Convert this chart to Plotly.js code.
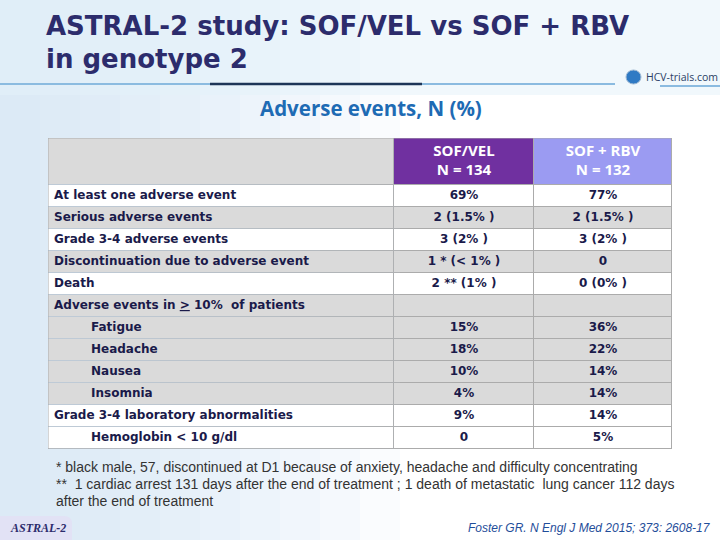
<!DOCTYPE html>
<html>
<head>
<meta charset="utf-8">
<script src="https://cdn.plot.ly/plotly-3.0.1.min.js"></script>
<style>html,body{margin:0;padding:0;background:#fff;}#chart{width:720px;height:540px;}</style>
</head>
<body>
<div id="chart"></div>
<script>
// ---- data ----
var columnHeaders = ['SOF/VEL<br>N = 134', 'SOF + RBV<br>N = 132'];
var categories = [
  'At least one adverse event',
  'Serious adverse events',
  'Grade 3-4 adverse events',
  'Discontinuation due to adverse event',
  'Death',
  'Adverse events in <u>&gt;</u> 10%  of patients',
  'Fatigue',
  'Headache',
  'Nausea',
  'Insomnia',
  'Grade 3-4 laboratory abnormalities',
  'Hemoglobin &lt; 10 g/dl'
];
var subItem = [false, false, false, false, false, false, true, true, true, true, false, true];
var sofVel = ['69%', '2 (1.5% )', '3 (2% )', '1 * (&lt; 1% )', '2 ** (1% )', '', '15%', '18%', '10%', '4%', '9%', '0'];
var sofRbv = ['77%', '2 (1.5% )', '3 (2% )', '0', '0 (0% )', '', '36%', '22%', '14%', '14%', '14%', '5%'];
var shaded = [false, true, false, true, false, true, true, true, true, true, false, false];
var footnotes = [
  '* black male, 57, discontinued at D1 because of anxiety, headache and difficulty concentrating',
  '**  1 cardiac arrest 131 days after the end of treatment ; 1 death of metastatic  lung cancer 112 days',
  'after the end of treatment'
];
var citation = 'Foster GR. N Engl J Med 2015; 373: 2608-17';

// ---- layout geometry (pixels) ----
var W = 720, H = 540;
function px(x) { return x / W; }
function py(y) { return 1 - y / H; }
var colEdges = [0, 346, 486, 624];
var headerH = 47, rowH = 22;
var rowEdges = [0, headerH];
categories.forEach(function () { rowEdges.push(rowEdges[rowEdges.length - 1] + rowH); });
var tableH = rowEdges[rowEdges.length - 1];
var rowCenters = categories.map(function (c, i) { return (rowEdges[i + 1] + rowEdges[i + 2]) / 2; });
var colCenters = [1, 2].map(function (j) { return (colEdges[j] + colEdges[j + 1]) / 2; });

// cell fill codes: 0 white, 1 gray, 2 purple, 3 lavender
var z = [[1, 2, 3]];
shaded.forEach(function (s) { var v = s ? 1 : 0; z.push([v, v, v]); });

var fills = {
  type: 'heatmap', x: colEdges, y: rowEdges, z: z, zmin: 0, zmax: 3,
  colorscale: [[0, '#ffffff'], [1 / 3, '#dadada'], [2 / 3, '#7030a0'], [1, '#9b9bf2']],
  showscale: false, xgap: 1, ygap: 1, hoverinfo: 'skip'
};
var bodyFont = { family: 'DejaVu Sans', size: 12, color: '#1a1a4a' };
var labels = {
  type: 'scatter', mode: 'text',
  x: subItem.map(function (s) { return s ? 43 : 6; }), y: rowCenters,
  text: categories.map(function (c) { return '<b>' + c + '</b>'; }),
  textposition: 'middle right', textfont: bodyFont, cliponaxis: false, hoverinfo: 'skip'
};
var velTrace = {
  type: 'scatter', mode: 'text', x: sofVel.map(function () { return colCenters[0]; }), y: rowCenters,
  text: sofVel.map(function (v) { return '<b>' + v + '</b>'; }),
  textposition: 'middle center', textfont: bodyFont, cliponaxis: false, hoverinfo: 'skip'
};
var rbvTrace = {
  type: 'scatter', mode: 'text', x: sofRbv.map(function () { return colCenters[1]; }), y: rowCenters,
  text: sofRbv.map(function (v) { return '<b>' + v + '</b>'; }),
  textposition: 'middle center', textfont: bodyFont, cliponaxis: false, hoverinfo: 'skip'
};
var headerTrace = {
  type: 'scatter', mode: 'text', x: colCenters, y: [headerH / 2, headerH / 2],
  text: columnHeaders.map(function (h) { return '<b>' + h + '</b>'; }),
  textposition: 'middle center', textfont: { family: 'Open Sans', size: 15, color: '#ffffff' },
  cliponaxis: false, hoverinfo: 'skip'
};

var shapes = [];
// soft blue background fading to the right
for (var k = 0; k < 10; k++) {
  shapes.push({ type: 'rect', xref: 'paper', yref: 'paper', layer: 'below',
    x0: 0, x1: px(40 + k * 40), y0: 0, y1: 1,
    fillcolor: '#cfe6f6', opacity: 0.1, line: { width: 0 } });
}
shapes.push({ type: 'rect', xref: 'paper', yref: 'paper', layer: 'below',
  x0: 0, x1: 1, y0: py(95), y1: 1, fillcolor: '#e4f1fa', opacity: 0.5, line: { width: 0 } });
// table outer border
shapes.push({ type: 'rect', xref: 'x', yref: 'y', x0: 0, x1: colEdges[3], y0: 0, y1: tableH,
  line: { color: '#ababab', width: 1 }, fillcolor: 'rgba(0,0,0,0)' });
// title rule
shapes.push({ type: 'line', xref: 'paper', yref: 'paper', x0: 0, x1: px(615), y0: py(84), y1: py(84),
  line: { color: '#8bbbe0', width: 2 } });
shapes.push({ type: 'line', xref: 'paper', yref: 'paper', x0: px(660), x1: 1, y0: py(86), y1: py(86),
  line: { color: '#8bbbe0', width: 2 } });
shapes.push({ type: 'line', xref: 'paper', yref: 'paper', x0: px(210), x1: px(422), y0: py(84), y1: py(84),
  line: { color: '#1d3557', width: 2.5 } });
// logo capsule
shapes.push({ type: 'circle', xref: 'paper', yref: 'paper', x0: px(626), x1: px(641), y0: py(84), y1: py(70),
  fillcolor: '#2f7ac4', line: { color: '#9fb9d3', width: 1 } });
// ASTRAL-2 badge
shapes.push({ type: 'path', xref: 'paper', yref: 'paper',
  path: 'M 0,' + py(516) + ' L ' + px(64) + ',' + py(516) + ' Q ' + px(72) + ',' + py(516) + ' ' + px(72) + ',' + py(524) +
        ' L ' + px(72) + ',' + py(540) + ' L 0,' + py(540) + ' Z',
  fillcolor: '#e2e2f5', line: { width: 0 } });

var titleFont = { family: 'DejaVu Sans', size: 26, color: '#2c2c6c' };
function note(text, x, y, xanchor, font) {
  return { text: text, xref: 'paper', yref: 'paper', x: px(x), y: py(y), xanchor: xanchor, yanchor: 'middle',
    showarrow: false, font: font };
}
var annotations = [
  note('<b>ASTRAL-2 study: SOF/VEL vs SOF + RBV</b>', 44, 26, 'left', titleFont),
  note('<b>in genotype 2</b>', 44, 59, 'left', titleFont),
  note('HCV-trials.com', 644, 77, 'left', { family: 'Open Sans', size: 10.5, color: '#2b3f66' }),
  note('<b>Adverse events, N (%)</b>', 371, 108, 'center', { family: 'Open Sans', size: 20.5, color: '#1e6bb4' }),
  note('<i><b>ASTRAL-2</b></i>', 8, 528, 'left', { family: 'Liberation Serif', size: 12, color: '#2c2c6c' }),
  note('<i>' + citation + '</i>', 713, 528, 'right', { family: 'Liberation Sans', size: 12, color: '#1f4e9a' })
];
footnotes.forEach(function (f, i) {
  annotations.push(note(f, 54, 467 + i * 17, 'left', { family: 'Liberation Sans', size: 14, color: '#333333' }));
});

var hiddenAxis = { showgrid: false, zeroline: false, showticklabels: false, ticks: '', showline: false, fixedrange: true };
var layout = {
  width: W, height: H,
  margin: { l: 0, r: 0, t: 0, b: 0 },
  paper_bgcolor: '#ffffff',
  plot_bgcolor: '#ababab',
  xaxis: Object.assign({ domain: [px(48), px(672)], range: [0, colEdges[3]] }, hiddenAxis),
  yaxis: Object.assign({ domain: [py(138 + tableH), py(138)], range: [tableH, 0] }, hiddenAxis),
  shapes: shapes,
  annotations: annotations,
  showlegend: false
};

Plotly.newPlot('chart', [fills, labels, velTrace, rbvTrace, headerTrace], layout, { displayModeBar: false, staticPlot: true });
</script>
</body>
</html>
